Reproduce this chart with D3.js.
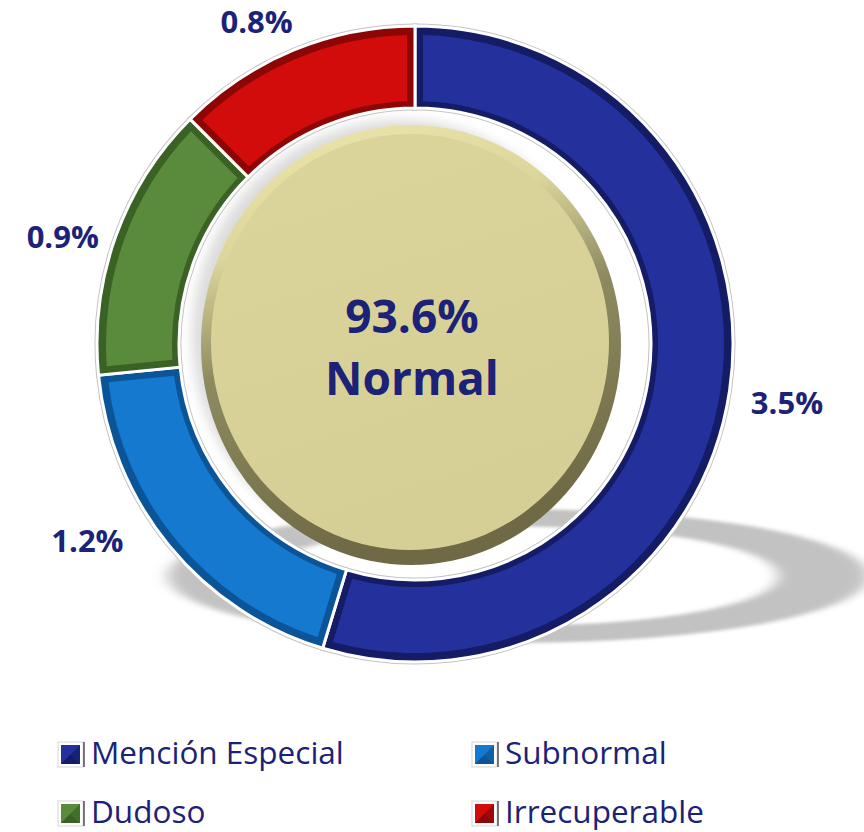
<!DOCTYPE html>
<html>
<head>
<meta charset="utf-8">
<script src="https://cdn.jsdelivr.net/npm/d3@7"></script>
<style>
  html, body { margin: 0; padding: 0; background: #ffffff; }
  svg { display: block; }
</style>
</head>
<body>
<svg id="chart" width="864" height="832"></svg>
<script>
// ---------------- DATA ----------------
const categories = ["Mención Especial", "Subnormal", "Dudoso", "Irrecuperable"];
const values = [3.5, 1.2, 0.9, 0.8];
const valueLabels = ["3.5%", "1.2%", "0.9%", "0.8%"];
const centerValueLabel = "93.6%";
const centerCategory = "Normal";

// ---------------- STYLE / LAYOUT ----------------
const mainColors = ["#24309B", "#1579CF", "#5A8A3C", "#D20B0B"];
const darkColors = ["#141C66", "#0A5497", "#3A6224", "#8C0606"];
const textColor = "#1B2278";
const cx = 415, cy = 344;
const rOuter = 318, rInner = 236;
const labelRadius = 372;
const labelNudge = [[4, 4], [-40, -39], [-2, 18], [-16, 22]];

const svg = d3.select("#chart");
const defs = svg.append("defs");

const f = defs.append("filter").attr("id", "blur").attr("x", "-20%").attr("y", "-50%").attr("width", "140%").attr("height", "200%");
f.append("feGaussianBlur").attr("stdDeviation", 7);
const f2 = defs.append("filter").attr("id", "blur2").attr("x", "-20%").attr("y", "-20%").attr("width", "140%").attr("height", "140%");
f2.append("feGaussianBlur").attr("stdDeviation", 6);

const g1 = defs.append("linearGradient").attr("id", "bevel").attr("x1", 0).attr("y1", 0).attr("x2", 0.25).attr("y2", 1);
g1.append("stop").attr("offset", "0%").attr("stop-color", "#EEE8AE");
g1.append("stop").attr("offset", "30%").attr("stop-color", "#DCD69C");
g1.append("stop").attr("offset", "55%").attr("stop-color", "#8E8A60");
g1.append("stop").attr("offset", "100%").attr("stop-color", "#6F6A45");
const g2 = defs.append("linearGradient").attr("id", "face").attr("x1", 0).attr("y1", 0).attr("x2", 0.3).attr("y2", 1);
g2.append("stop").attr("offset", "0%").attr("stop-color", "#DCD59B");
g2.append("stop").attr("offset", "100%").attr("stop-color", "#D6CF95");

// ---------------- PIE ----------------
const pie = d3.pie().sort(null).value(d => d).startAngle(0).endAngle(2 * Math.PI);
const arcs = pie(values);

const arcBase = d3.arc().innerRadius(rInner).outerRadius(rOuter);
const arcInset = d3.arc().innerRadius(rInner + 7).outerRadius(rOuter - 9)
  .padRadius(300).padAngle(16 / 300);

// floor shadow (flattened copy of ring)
const ringFull = d3.arc().innerRadius(rInner).outerRadius(rOuter).startAngle(0).endAngle(2 * Math.PI);
svg.append("path")
  .attr("d", ringFull())
  .attr("transform", "translate(518,576) scale(1.1,0.21)")
  .attr("fill", "#c2c2c2")
  .attr("filter", "url(#blur)");

// subtle shadow behind the center disc (top-left)
svg.append("ellipse")
  .attr("cx", 400).attr("cy", 336).attr("rx", 208).attr("ry", 216)
  .attr("fill", "#dcdcdc").attr("filter", "url(#blur2)");

const ring = svg.append("g").attr("transform", `translate(${cx},${cy})`);

ring.selectAll("path.rim").data(arcs).join("path")
  .attr("class", "rim")
  .attr("d", arcBase)
  .attr("fill", "none")
  .attr("stroke", "#c4c4c4")
  .attr("stroke-width", 5);

ring.selectAll("path.base").data(arcs).join("path")
  .attr("class", "base")
  .attr("d", arcBase)
  .attr("fill", (d, i) => darkColors[i])
  .attr("stroke", "#ffffff")
  .attr("stroke-width", 3)
  .attr("stroke-linejoin", "miter");

ring.selectAll("path.inset").data(arcs).join("path")
  .attr("class", "inset")
  .attr("d", arcInset)
  .attr("fill", (d, i) => mainColors[i]);

// ---------------- CENTER DISC ----------------
const ccx = 411, ccy = 345;
svg.append("ellipse")
  .attr("cx", ccx).attr("cy", ccy).attr("rx", 210).attr("ry", 220)
  .attr("fill", "url(#bevel)");
svg.append("ellipse")
  .attr("cx", ccx - 1).attr("cy", ccy - 3).attr("rx", 199).attr("ry", 208)
  .attr("fill", "url(#face)");

svg.append("text")
  .attr("x", ccx + 1).attr("y", 333)
  .attr("text-anchor", "middle")
  .attr("font-family", "'Open Sans', sans-serif")
  .attr("font-weight", 700)
  .attr("font-size", 46)
  .attr("fill", textColor)
  .text(centerValueLabel);
svg.append("text")
  .attr("x", ccx + 1).attr("y", 395)
  .attr("text-anchor", "middle")
  .attr("font-family", "'Open Sans', sans-serif")
  .attr("font-weight", 700)
  .attr("font-size", 46)
  .attr("fill", textColor)
  .text(centerCategory);

// ---------------- DATA LABELS ----------------
arcs.forEach((d, i) => {
  const a = (d.startAngle + d.endAngle) / 2;
  const x = cx + labelRadius * Math.sin(a) + labelNudge[i][0];
  const y = cy - labelRadius * Math.cos(a) + labelNudge[i][1];
  svg.append("text")
    .attr("x", x).attr("y", y)
    .attr("dy", "0.36em")
    .attr("text-anchor", "middle")
    .attr("font-family", "'Open Sans', sans-serif")
    .attr("font-weight", 700)
    .attr("font-size", 31)
    .attr("fill", textColor)
    .text(valueLabels[i]);
});

// ---------------- LEGEND ----------------
const legendPos = [[59, 743], [473, 743], [59, 802], [473, 802]];
categories.forEach((c, i) => {
  const [lx, ly] = legendPos[i];
  const g = svg.append("g").attr("transform", `translate(${lx},${ly})`);
  const s = 23;
  g.append("rect").attr("x", -1).attr("y", -1).attr("width", s + 2).attr("height", s + 2)
    .attr("fill", "#fff").attr("stroke", "#d6d6d6").attr("stroke-width", 1);
  g.append("rect").attr("x", 2).attr("y", 2).attr("width", s - 4).attr("height", s - 4)
    .attr("fill", mainColors[i]);
  g.append("path").attr("d", `M2,${s - 2} L${s / 2},${s / 2} L${s - 2},${s - 2} Z`).attr("fill", darkColors[i]);
  g.append("path").attr("d", `M${s - 2},2 L${s / 2},${s / 2} L${s - 2},${s - 2} Z`).attr("fill", darkColors[i]).attr("opacity", 0.7);
  g.append("line").attr("x1", s + 2).attr("x2", s + 2).attr("y1", -1).attr("y2", s + 1)
    .attr("stroke", "#333").attr("stroke-width", 1.3);
  g.append("text")
    .attr("x", s + 9).attr("y", 21)
    .attr("font-family", "'Open Sans', sans-serif")
    .attr("font-size", 31.5)
    .attr("fill", textColor)
    .text(c);
});
</script>
</body>
</html>
